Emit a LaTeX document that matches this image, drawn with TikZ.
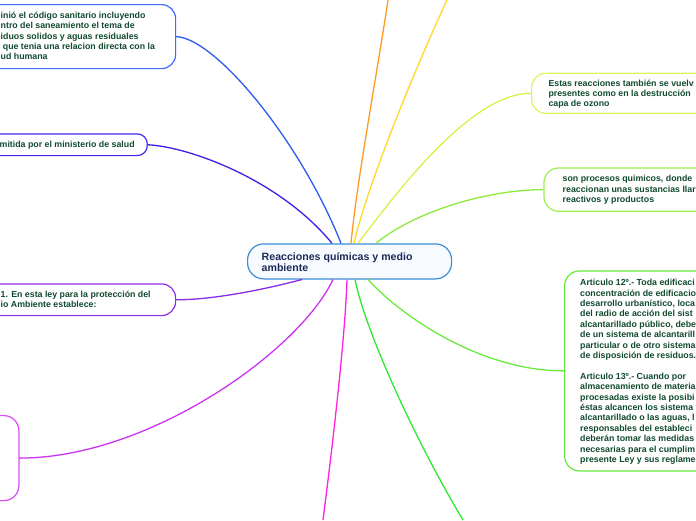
\documentclass[tikz,border=0pt]{standalone}
\usepackage{fontspec}
\setmainfont{Liberation Sans}
\definecolor{txtgreen}{HTML}{114A2E}
\definecolor{ctxt}{HTML}{1C2A57}
\definecolor{cborder}{HTML}{3A8ED6}
\definecolor{cfill}{HTML}{F7FBFF}
\definecolor{lineA}{HTML}{2C5BF0}
\definecolor{boxA}{HTML}{3F6BFF}
\definecolor{lineB}{HTML}{3A22E6}
\definecolor{boxB}{HTML}{3F2BF0}
\definecolor{lineC}{HTML}{8A2BE6}
\definecolor{boxC}{HTML}{8E2AE8}
\definecolor{lineD}{HTML}{CC33F0}
\definecolor{boxD}{HTML}{D84AF5}
\definecolor{pinkL}{HTML}{FF22E0}
\definecolor{greenL}{HTML}{2EEA2E}
\definecolor{lineE}{HTML}{6CEA3C}
\definecolor{boxE}{HTML}{66E83A}
\definecolor{lineF}{HTML}{8EEA3A}
\definecolor{boxF}{HTML}{9BEE50}
\definecolor{lineG}{HTML}{DCEE4A}
\definecolor{boxG}{HTML}{DDF25C}
\definecolor{yellowL}{HTML}{FFD92A}
\definecolor{orangeL}{HTML}{FF9A1F}
\begin{document}
\begin{tikzpicture}[x=1pt,y=-1pt,
  box/.style={draw, rounded corners=14pt, line width=1.2pt, fill=white, inner sep=0pt, anchor=north west},
  txt/.style={anchor=base west, inner sep=0pt, text=txtgreen, font=\fontsize{8.8}{10.4}\selectfont\bfseries},
  ctx/.style={anchor=base west, inner sep=0pt, text=ctxt, font=\fontsize{10.6}{12}\selectfont\bfseries},
  link/.style={line width=1.3pt}]
\useasboundingbox (0,0) rectangle (696,520);
\clip (0,0) rectangle (696,520);
% free ends
\coordinate (oend) at (388,0);
\coordinate (yend) at (447,0);
\coordinate (pend) at (323,520);
\coordinate (gend) at (463,520);
% boxes
\node[box, draw=cborder, fill=cfill, minimum width=204pt, minimum height=35pt, rounded corners=16pt] (c) at (247,243.3) {};
\node[box, draw=boxA, minimum width=205pt, minimum height=64pt] (n1) at (-30,4) {};
\node[box, draw=boxB, minimum width=176.7pt, minimum height=21.7pt, rounded corners=10pt] (n2) at (-30,133.3) {};
\node[box, draw=boxC, minimum width=205pt, minimum height=31.7pt] (n3) at (-30,283.3) {};
\node[box, draw=boxD, minimum width=48.3pt, minimum height=85pt, rounded corners=15pt] (n4) at (-30,415) {};
\node[box, draw=boxG, minimum width=200pt, minimum height=40pt] (n5) at (531,72.7) {};
\node[box, draw=boxF, minimum width=190pt, minimum height=43.4pt, rounded corners=15pt] (n6) at (543.3,167.3) {};
\node[box, draw=boxE, minimum width=170pt, minimum height=200pt, rounded corners=15pt] (n7) at (564,270.3) {};
% connectors
\draw[link, lineA] (n1.east) .. controls (215,38) and (300,140) .. ([xshift=94pt]c.north west);
\draw[link, lineB] (n2.east) .. controls (190,147) and (280,180) .. ([xshift=85pt]c.north west);
\draw[link, orangeL] ([xshift=104pt]c.north west) .. controls (357,180) and (376,80) .. (oend);
\draw[link, yellowL] ([xshift=107pt]c.north west) .. controls (366,190) and (410,80) .. (yend);
\draw[link, lineG] ([xshift=111pt]c.north west) .. controls (395,195) and (470,93) .. (n5.west);
\draw[link, lineF] ([xshift=129pt]c.north west) .. controls (410,215) and (480,190) .. (n6.west);
\draw[link, lineC] (n3.east) .. controls (215,300) and (270,288) .. ([xshift=55pt]c.south west);
\draw[link, lineD] (n4.east) .. controls (150,458) and (300,350) .. ([xshift=86pt]c.south west);
\draw[link, pinkL] ([xshift=100pt]c.south west) .. controls (345,340) and (332,450) .. (pend);
\draw[link, greenL] ([xshift=108pt]c.south west) .. controls (365,330) and (415,440) .. (gend);
\draw[link, lineE] ([xshift=121pt]c.south west) .. controls (400,315) and (480,371) .. (n7.west);
% center text
\node[ctx] (ct1) at (261.5,260) {Reacciones químicas y medio};
\node[ctx] (ct2) at (261.5,271.5) {ambiente};
% node 1 text
\node[txt] (t11) at (0.5,18.3) {inió el código sanitario incluyendo};
\node[txt] (t12) at (0.5,28.7) {ntro del saneamiento el tema de};
\node[txt] (t13) at (0.5,39.1) {iduos solidos y aguas residuales};
\node[txt] (t14) at (2.7,49.5) {que tenia una relacion directa con la};
\node[txt] (t15) at (0.5,59.9) {ud humana};
% node 2 text
\node[txt] (t21) at (-0.5,147.5) {mitida por el ministerio de salud};
% node 3 text
\node[txt] (t31) at (0.5,297.3) {1. En esta ley para la protección del};
\node[txt] (t32) at (0.5,307.7) {io Ambiente establece:};
% node 5 text
\foreach \t [count=\i] in {{Estas reacciones también se vuelv},{presentes como en la destrucción},{capa de ozono}}
  \node[txt] (t5\i) at (548.3,{86+(\i-1)*10.4}) {\t};
% node 6 text
\foreach \t [count=\i] in {{son procesos quimicos, donde},{reaccionan unas sustancias llar},{reactivos y productos}}
  \node[txt] (t6\i) at (562.5,{181.6+(\i-1)*10.4}) {\t};
% node 7 text
\foreach \t [count=\i] in {{Articulo 12º.- Toda edificaci},{concentración de edificacio},{desarrollo urbanístico, loca},{del radio de acción del sist},{alcantarillado público, debe},{de un sistema de alcantarill},{particular o de otro sistema},{de disposición de residuos.}}
  \node[txt] (t7a\i) at (580,{285.7+(\i-1)*10.4}) {\t};
\foreach \t [count=\i] in {{Articulo 13º.- Cuando por},{almacenamiento de materia},{procesadas existe la posibi},{éstas alcancen los sistema},{alcantarillado o las aguas, l},{responsables del estableci},{deberán tomar las medidas},{necesarias para el cumplim},{presente Ley y sus reglame}}
  \node[txt] (t7b\i) at (580,{379.3+(\i-1)*10.4}) {\t};
\end{tikzpicture}
\end{document}
